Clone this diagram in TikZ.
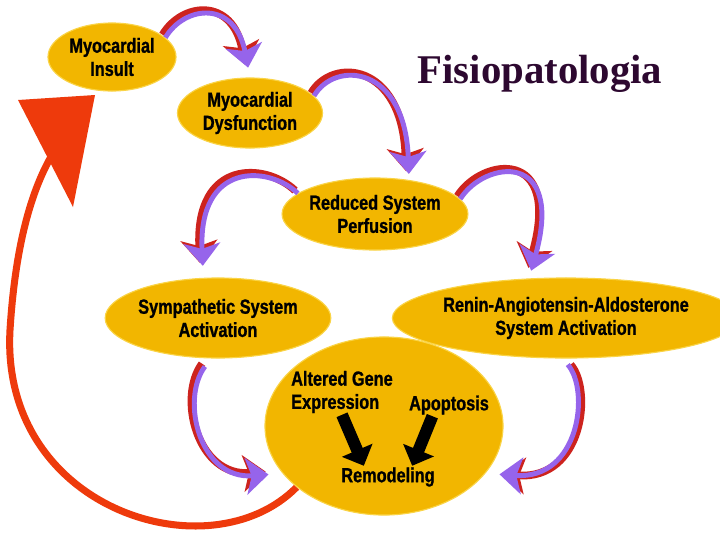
\documentclass[tikz,border=0pt]{standalone}
\usepackage{fontspec}
\usepackage{tikz}
\usetikzlibrary{calc,arrows.meta,shapes.geometric}
\usetikzlibrary{backgrounds}
\newfontfamily\lblfont{Liberation Sans}[FakeStretch=0.8,BoldFeatures={FakeBold=1}]
\newfontfamily\ttlfont{Liberation Serif}
\definecolor{gold}{RGB}{242,182,0}
\definecolor{goldedge}{RGB}{250,212,70}
\definecolor{bandred}{RGB}{205,35,30}
\definecolor{bandpurple}{RGB}{150,100,235}
\definecolor{loopred}{RGB}{238,58,12}
\definecolor{titlepurple}{RGB}{45,8,48}

\begin{document}
\begin{tikzpicture}[x=0.025cm,y=-0.025cm,
  stage/.style={ellipse,fill=gold,draw=goldedge,line width=0.8pt,inner sep=0pt,
    align=center,font=\lblfont\bfseries\fontsize{14.5}{16.5}\selectfont},
  lbl/.style={inner sep=1pt,font=\lblfont\bfseries\fontsize{14.5}{16.5}\selectfont},
  band/.style={draw=bandpurple,line width=3.5pt,-{Stealth[length=16pt,width=26pt,inset=4pt]},
    preaction={draw=bandred,line width=5.5pt,transform canvas={shift={#1}}}},
  band/.default={(-2pt,2pt)},
  blockarr/.style={draw=black,line width=8.5pt,-{Triangle[length=12pt,width=23pt]}},
  loopline/.style={draw=loopred,line width=5pt}]
\useasboundingbox (0,0) rectangle (720,540);

% the stages
\node[stage,minimum width=3.2cm,minimum height=1.7cm] (insult) at (112,57) {Myocardial\\Insult};
\node[stage,minimum width=3.625cm,minimum height=1.75cm] (dysf) at (250,113) {Myocardial\\Dysfunction};
\node[stage,minimum width=4.4cm,minimum height=1.8cm] (perf) at (375,214) {Reduced System\\Perfusion};
\node[stage,minimum width=4.65cm,minimum height=2cm] (symp) at (218,318) {Sympathetic System\\Activation};
\node[stage,minimum width=7.6cm,minimum height=2cm] (raas) at (566,318) {Renin-Angiotensin-Aldosterone\\System Activation};
\node[stage,minimum width=5.95cm,minimum height=4.45cm] (remod) at (384,426) {};

\node[lbl,align=left] (gene) at (342,392) {Altered Gene\\Expression};
\node[lbl] (apop) at (449,405) {Apoptosis};
\node[lbl] (remtxt) at (388,477) {Remodeling};
\draw[blockarr] (gene.south) -- ($(remtxt.north west)!0.25!(remtxt.north east)$);
\draw[blockarr] ($(apop.south west)!0.3!(apop.south east)$) -- ($(remtxt.north west)!0.75!(remtxt.north east)$);

\node[font=\ttlfont\bfseries\fontsize{29}{34}\selectfont,text=titlepurple] (title) at (540,74) {Fisiopatologia};

% curved arrows
\draw[band,shorten >=0.25cm] (insult.20) .. controls (185,5) and (235,0) .. (dysf.north);
\draw[band,shorten >=0.15cm] (dysf.15) .. controls (335,60) and (405,65) .. (perf.45);
\draw[band,shorten >=0.3cm] (perf.165) .. controls (268,165) and (198,162) .. (symp.110);
\draw[band,shorten >=0.2cm] (perf.10) .. controls (485,160) and (565,150) .. (raas.133);
\draw[band,shorten <=0.25cm,shorten >=0.35cm] (symp.260) .. controls (180,400) and (200,480) .. (remod.205);
\draw[band={(2pt,0pt)},shorten <=0.2cm,shorten >=0.35cm] (raas.265) .. controls (590,390) and (580,480) .. (remod.335);

% the big loop back
\coordinate (loophead) at (55,150);
\begin{scope}[on background layer]
\fill[white] (0,0) rectangle (720,540);
\draw[loopline] (remod.215) .. controls (210,575) and (0,510) .. (10,330) .. controls (15,250) and (30,190) .. (loophead);
\fill[loopred] (18,100) -- (95,95) -- (73,207) -- cycle;
\end{scope}
\end{tikzpicture}
\end{document}
